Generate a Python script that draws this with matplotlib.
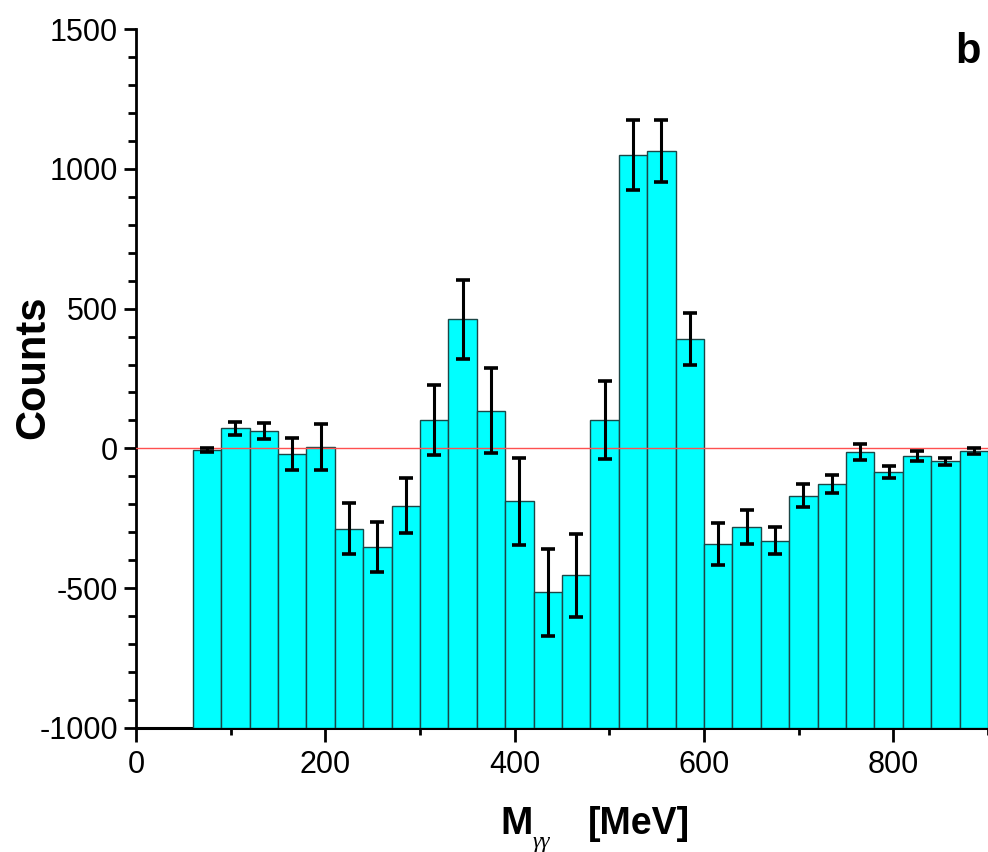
import matplotlib
matplotlib.use("Agg")
import matplotlib.pyplot as plt
from matplotlib.ticker import MultipleLocator

plt.rcParams['font.family'] = ['Liberation Sans', 'DejaVu Sans']
plt.rcParams['axes.unicode_minus'] = False

# Bin centers of M_gammagamma [MeV] (30 MeV bins from 60 to 900)
bin_centers = [75, 105, 135, 165, 195, 225, 255, 285, 315, 345,
               375, 405, 435, 465, 495, 525, 555, 585, 615, 645,
               675, 705, 735, 765, 795, 825, 855, 885]
counts = [-6, 72, 62, -20, 4, -287, -352, -205, 101, 462,
          135, -189, -515, -455, 101, 1051, 1065, 392, -342, -281,
          -331, -170, -127, -14, -85, -28, -46, -10]
errors = [7, 24, 29, 56, 82, 90, 90, 99, 125, 142,
          151, 156, 155, 148, 140, 125, 110, 92, 74, 62,
          49, 41, 33, 28, 21, 17, 13, 10]
bin_width = 30
baseline = -1000

fig = plt.figure(figsize=(9.88, 8.52), dpi=100)
ax = fig.add_axes([0.1377, 0.1459, 0.8623, 0.8197])

heights = [c - baseline for c in counts]
ax.bar(bin_centers, heights, bottom=baseline, width=bin_width,
       color='#00FFFF', edgecolor='#1c4646', linewidth=1.0, zorder=3)
ax.axhline(0, color='#ff5050', linewidth=1.0, zorder=4)
ax.errorbar(bin_centers, counts, yerr=errors, fmt='none', ecolor='black',
            elinewidth=2.2, capsize=5, capthick=2.6, zorder=5)

ax.set_xlim(0, 900)
ax.set_ylim(-1000, 1500)
ax.spines['top'].set_visible(False)
ax.spines['right'].set_visible(False)
ax.spines['left'].set_linewidth(2)
ax.spines['bottom'].set_linewidth(2.2)

ax.xaxis.set_major_locator(MultipleLocator(200))
ax.xaxis.set_minor_locator(MultipleLocator(100))
ax.yaxis.set_major_locator(MultipleLocator(500))
ax.yaxis.set_minor_locator(MultipleLocator(100))
ax.tick_params(axis='x', which='major', direction='out', length=10, width=2, labelsize=22, pad=6)
ax.tick_params(axis='x', which='minor', direction='out', length=5, width=2)
ax.tick_params(axis='y', which='major', direction='out', length=9, width=2, labelsize=22, pad=4)
ax.tick_params(axis='y', which='minor', direction='out', length=5.5, width=2)

fig.text(33/988, 1 - 367/852, 'Counts', fontsize=30, fontweight='bold', rotation=90,
         ha='center', va='center')

fig.text(500/988, 1 - 834/852, 'M', fontsize=28, fontweight='bold', ha='left', va='baseline')
fig.text(533/988, 1 - 847/852, 'γγ', fontsize=16, style='italic', ha='left', va='baseline',
         family=['Liberation Serif', 'DejaVu Serif'])
fig.text(588/988, 1 - 834/852, '[MeV]', fontsize=27, fontweight='bold', ha='left', va='baseline')
fig.text(981/988, 1 - 63/852, 'b', fontsize=30, fontweight='bold', ha='right', va='baseline')

fig.savefig('out.png', dpi=100)
